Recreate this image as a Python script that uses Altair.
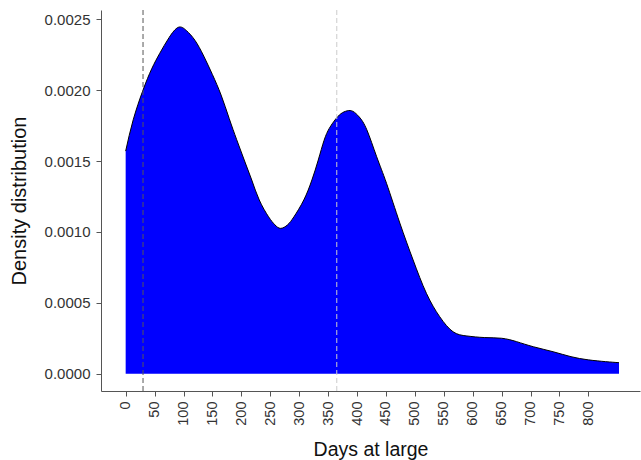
import altair as alt
import pandas as pd

days = [0, 13, 30, 45, 59, 75, 91, 105, 120, 135, 150, 165, 179, 192, 205,
        218, 231, 247, 258, 268, 280, 291, 308, 322, 333, 343, 352, 362, 372,
        383, 393, 404, 417, 434, 451, 474, 497, 520, 543, 566, 590, 620, 650, 676,
        705, 739, 770, 800, 830, 853]
density = [0.00157, 0.00179, 0.00200, 0.00215, 0.00226, 0.00237, 0.002443,
           0.00242, 0.00235, 0.00224, 0.00211, 0.001965, 0.00180, 0.001650, 0.001507,
           0.001366, 0.001225, 0.001107, 0.00105, 0.001025, 0.00105, 0.001107, 0.001225,
           0.001366, 0.001507, 0.001645, 0.00173, 0.00179, 0.001833,
           0.001854, 0.00185, 0.00181, 0.00172, 0.00153, 0.001343, 0.001063, 0.000802,
           0.000567, 0.000402, 0.000296, 0.000266, 0.000255, 0.00025, 0.000226,
           0.00019, 0.000155, 0.00012, 0.0000976, 0.000085, 0.0000776]
ref_days = [30, 365]
ref_colors = ["#555555", "#cccccc"]
x_ticks = list(range(0, 801, 50))
y_ticks = [0.0, 0.0005, 0.0010, 0.0015, 0.0020, 0.0025]

df = pd.DataFrame({"days": days, "density": density})
refs = pd.DataFrame({"d": ref_days, "c": ref_colors})

FONT = "Liberation Sans"

x_scale = alt.Scale(domain=[-42.65, 889.3], nice=False, zero=False)
y_scale = alt.Scale(domain=[-0.000122, 0.002565], nice=False, zero=False)

x_axis = alt.Axis(values=x_ticks, labelAngle=270, title="Days at large", grid=False,
                  labelFontSize=14.5, titleFontSize=19.5, labelColor="#333333",
                  titleColor="#111111", tickColor="#555555", domainColor="#555555",
                  tickSize=5, labelPadding=5, titlePadding=15, labelFont=FONT,
                  titleFont=FONT, titleFontWeight="normal", labelFlush=False,
                  labelOverlap=False, labelBound=False)
y_axis = alt.Axis(values=y_ticks, format=".4f", title="Density distribution", grid=False,
                  labelFontSize=15, titleFontSize=20, labelColor="#333333",
                  titleColor="#111111", tickColor="#555555", domainColor="#555555",
                  tickSize=5, labelPadding=6, titlePadding=15, labelFont=FONT,
                  titleFont=FONT, titleFontWeight="normal", labelFlush=False,
                  labelOverlap=False, labelBound=False)

X = alt.X("days:Q", scale=x_scale, axis=x_axis)
Y = alt.Y("density:Q", scale=y_scale, axis=y_axis)

base = alt.Chart(df)
area = base.mark_area(color="#0000FF", interpolate="natural").encode(
    x=X, y=Y, y2=alt.datum(0),
)
line = base.mark_line(color="black", strokeWidth=1, interpolate="natural").encode(
    x=X, y=Y,
)
rules = alt.Chart(refs).mark_rule(strokeDash=[5, 3], strokeWidth=1).encode(
    x=alt.X("d:Q", scale=x_scale, axis=x_axis),
    color=alt.Color("c:N", scale=None),
)

chart = alt.layer(area, line, rules).properties(
    width=539, height=381,
    autosize=alt.AutoSizeParams(type="none"),
    padding={"left": 101, "top": 10, "right": 1, "bottom": 69},
    background="white",
).configure_view(stroke=None)

chart.save("out.html", embed_options={"renderer": "svg", "actions": False})
